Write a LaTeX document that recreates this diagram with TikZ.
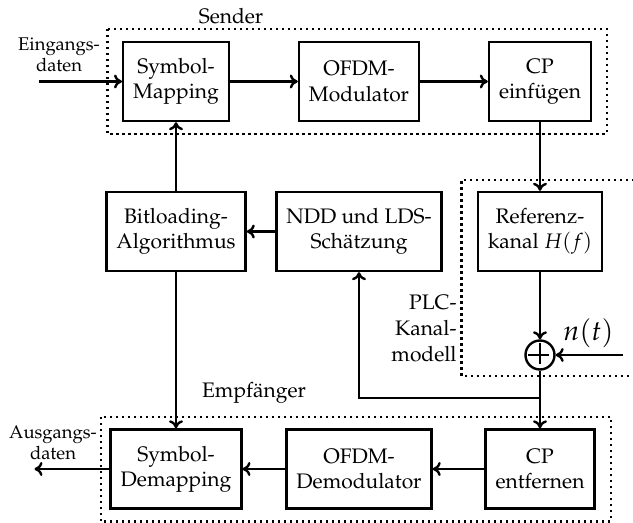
\documentclass[tikz,border=0pt]{standalone}
\usepackage[T1]{fontenc}
\usepackage{mathpazo}
\usetikzlibrary{arrows.meta}
\begin{document}
\begin{tikzpicture}[x=0.5pt,y=-0.5pt,
  font=\fontsize{10.5}{12.6}\selectfont,
  blk/.style={draw, line width=1.2pt, minimum height=39.5pt, inner xsep=5pt, inner ysep=0pt, align=center},
  grp/.style={draw, line width=1.05pt, dash pattern=on 1.05pt off 1.95pt},
  arr/.style={line width=1.2pt, -{To[length=4pt,width=7pt]}},
  ln/.style={line width=1.2pt},
  lbl/.style={inner sep=0pt, align=center},
  small/.style={font=\fontsize{9.2}{10.4}\selectfont}]
\useasboundingbox (0,0) rectangle (633,523);

% group frames
\draw[grp] (107.5,29) rectangle (606.7,134);
\draw[grp] (100.6,417) rectangle (611,521.5);
\draw[grp] (640,180) -- (461.5,180) -- (461.5,376) -- (640,376);

% blocks
\node[blk] (sm)  at (176,81.5) {Symbol-\\Mapping};
\node[blk] (om)  at (359,81.5) {OFDM-\\Modulator};
\node[blk] (cpe) at (540,81.5) {CP\\einf\"ugen};
\node[blk] (bl)  at (176,231.5) {Bitloading-\\Algorithmus};
\node[blk] (ndd) at (359,231.5) {NDD und LDS-\\Sch\"atzung};
\node[blk] (ref) at (540,231.5) {Referenz-\\kanal $H(f)$};
\node[blk] (sd)  at (176,469) {Symbol-\\Demapping};
\node[blk] (od)  at (359,469) {OFDM-\\Demodulator};
\node[blk] (cpr) at (540,469) {CP\\entfernen};
\node[draw, circle, line width=1.2pt, minimum size=14.5pt, inner sep=0pt] (sum) at (540,355) {};
\draw[ln] (sum.west) ++(4,0) -- ++(21,0);
\draw[ln] (sum.north) ++(0,4) -- ++(0,21);

% labels
\node[lbl] (lsend) at (231,16) {Sender};
\node[lbl] (lemp) at (254,393) {Empf\"anger};
\node[lbl, small] (lein) at (59,55) {Eingangs-\\daten};
\node[lbl, small] (laus) at (53,442.5) {Ausgangs-\\daten};
\node[lbl, align=right, anchor=east, font=\fontsize{10.5}{13}\selectfont] (lplc) at (457,328) {PLC-\\Kanal-\\modell};
\node[lbl, font=\fontsize{14}{16}\selectfont] (lnt) at (588.5,333) {$n(t)$};

% free ends
\coordinate (in) at (38.5,81.5);
\coordinate (out) at (34.5,469);
\coordinate (nz) at (623,355);
\coordinate (j) at (540,398);

% connectors
\draw[arr] (in) -- (sm.west);
\draw[arr] (sm) -- (om);
\draw[arr] (om) -- (cpe);
\draw[arr] (cpe.south) -- (ref.north);
\draw[arr] (ref.south) -- (sum.north);
\draw[arr] (nz) -- (sum.east);
\draw[ln] (sum.south) -- (j);
\draw[arr] (j) -| (ndd.south);
\draw[arr] (j) -- (cpr.north);
\draw[arr] (ndd) -- (bl);
\draw[arr] (bl.north) -- (sm.south);
\draw[arr] (bl.south) -- (sd.north);
\draw[arr] (cpr) -- (od);
\draw[arr] (od) -- (sd);
\draw[arr] (sd.west) -- (out);
\end{tikzpicture}
\end{document}
